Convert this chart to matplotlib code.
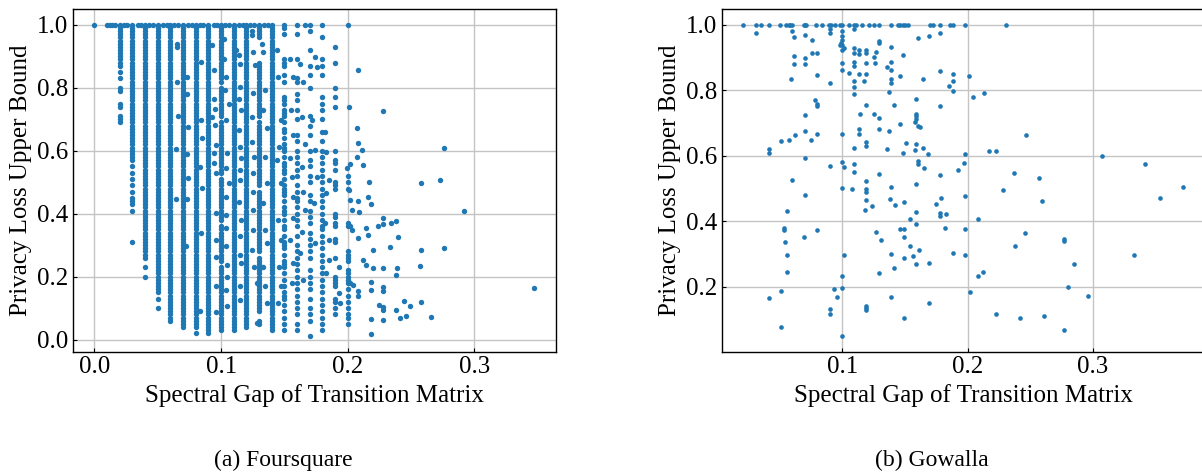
import numpy as np
import matplotlib.pyplot as plt

plt.rcParams['font.family'] = ['Liberation Serif', 'DejaVu Serif']

# ---- Foursquare ----
# most points sit on columns of spectral gap 0.02, 0.03, ..., 0.20
# y values are given in hundredths
fs_col_x = [0.02, 0.03, 0.04, 0.05, 0.06, 0.07, 0.08, 0.09, 0.10, 0.11,
            0.12, 0.13, 0.14, 0.15, 0.16, 0.17, 0.18, 0.19, 0.20]

fs_002 = [100, 99, 98, 97, 96, 95, 94, 93, 92, 91, 90, 89, 88, 87, 85, 83, 80, 79, 75, 74, 71, 70, 69]
fs_003 = [100, 99, 98, 97, 96, 95, 94, 93, 92, 91, 90, 89, 88, 87, 86, 85, 84, 83, 82, 81, 80, 79, 78, 77,
          76, 75, 74, 73, 72, 71, 70, 69, 68, 67, 66, 65, 64, 63, 62, 61, 60, 59, 58, 57,
          55, 53, 51, 49, 47, 45, 44, 43, 41, 31]
fs_004 = [100, 99, 98, 97, 96, 95, 94, 93, 92, 91, 90, 89, 88, 87, 86, 85, 84, 83, 82, 81, 80, 79, 78, 77,
          76, 75, 74, 73, 72, 71, 70, 69, 68, 67, 66, 65, 64, 63, 62, 61, 60, 59, 58, 57, 56, 55, 54, 53,
          52, 51, 50, 49, 48, 47, 46, 45, 44, 43, 42, 41, 40, 39, 38, 37, 36, 35, 34, 33, 32, 31, 30, 29,
          28, 27, 26, 23, 20]
fs_005 = [100, 99, 98, 97, 96, 95, 94, 93, 92, 91, 90, 89, 88, 87, 86, 85, 84, 83, 82, 81, 80, 79, 78, 77,
          76, 75, 74, 73, 72, 71, 70, 69, 68, 67, 66, 65, 64, 63, 62, 61, 60, 59, 58, 57, 56, 55, 54, 53,
          52, 51, 50, 49, 48, 47, 46, 45, 44, 43, 42, 41, 40, 39, 38, 37, 36, 35, 34, 33, 32, 31, 30, 29,
          28, 27, 26, 25, 24, 23, 22, 21, 20, 19, 18, 17, 16, 15, 13, 10]
fs_006 = [100, 99, 98, 97, 96, 95, 94, 93, 92, 91, 90, 89, 88, 87, 86, 85, 84, 83, 82, 81, 80, 79, 78, 77,
          76, 75, 74, 73, 72, 71, 70, 69, 68, 67, 66, 65, 64, 63, 62, 61, 60, 59, 58, 57, 56, 55, 54, 53,
          52, 51, 50, 49, 48, 47, 46, 45, 44, 43, 42, 41, 40, 39, 38, 37, 36, 35, 34, 33, 32, 31, 30, 29,
          28, 27, 26, 25, 24, 23, 22, 21, 20, 19, 18, 17, 16, 15, 14, 13, 12, 11, 10, 9, 8, 7, 6]
fs_007 = [100, 99, 98, 97, 96, 95, 94, 93, 92, 91, 90, 89, 88, 87, 86, 85, 84, 83, 82, 81, 80, 79, 78, 77,
          76, 75, 74, 73, 72, 71, 70, 69, 68, 67, 66, 65, 64, 63, 62, 61, 60, 59, 58, 57, 56, 55, 54, 53,
          52, 51, 50, 49, 48, 47, 46, 45, 44, 43, 42, 41, 40, 39, 38, 37, 36, 35, 34, 33, 32, 31, 30, 29,
          28, 27, 26, 25, 24, 23, 22, 21, 20, 19, 18, 17, 16, 15, 14, 13, 12, 11, 10, 9, 8, 7, 6, 5, 4]
fs_008 = [100, 99, 98, 97, 96, 95, 94, 93, 92, 91, 90, 89, 88, 87, 86, 85, 84, 83, 82, 81, 80, 79, 78, 77,
          76, 75, 74, 73, 72, 71, 70, 69, 68, 67, 66, 65, 64, 63, 62, 61, 60, 59, 58, 57, 56, 55, 54, 53,
          52, 51, 50, 49, 48, 47, 46, 45, 44, 43, 42, 41, 40, 39, 38, 37, 36, 35, 34, 33, 32, 31, 30, 29,
          28, 27, 26, 25, 24, 23, 22, 21, 20, 19, 18, 17, 16, 15, 14, 13, 12, 11, 10, 9, 8, 7, 6, 5, 4, 2]
fs_009 = [100, 99, 98, 97, 96, 95, 94, 93, 92, 91, 90, 89, 88, 87, 86, 85, 84, 83, 82, 81, 80, 79, 78, 77,
          76, 75, 74, 73, 72, 71, 70, 69, 68, 67, 66, 65, 64, 63, 62, 61, 60, 59, 58, 57, 56, 55, 54, 53,
          52, 51, 50, 49, 48, 47, 46, 45, 44, 43, 42, 41, 40, 39, 38, 37, 36, 35, 34, 33, 32, 31, 30, 29,
          28, 27, 26, 25, 24, 23, 22, 21, 20, 19, 18, 17, 16, 15, 14, 13, 12, 11, 10, 9, 8, 7, 6, 5, 4, 3, 2]
fs_010 = [100, 99, 98, 97, 96, 95, 94, 93, 92, 91, 90, 89, 88, 87, 86, 85, 84, 83, 82, 80, 79, 78, 77,
          76, 75, 74, 73, 72, 71, 69, 68, 67, 66, 65, 64, 63, 62, 61, 60, 59, 58, 57, 56, 55, 54, 53,
          51, 50, 49, 48, 47, 46, 45, 44, 43, 42, 41, 40, 39, 38, 36, 35, 34, 33, 32, 31, 30, 29,
          28, 27, 26, 25, 23, 22, 21, 20, 19, 18, 17, 16, 15, 14, 13, 12, 11, 10, 9, 8, 7, 6, 5, 4, 3]
fs_011 = [100, 99, 98, 97, 96, 95, 94, 93, 92, 91, 90, 89, 88, 87, 86, 85, 84, 83, 82, 81, 80, 79, 78, 77,
          76, 75, 74, 73, 72, 71, 70, 69, 68, 67, 66, 65, 64, 63, 62, 61, 60, 59, 58, 57, 56, 55, 54, 53,
          52, 51, 50, 49, 48, 47, 46, 45, 44, 43, 42, 41, 40, 39, 38, 37, 36, 35, 34, 33, 32, 31, 30, 29,
          28, 27, 26, 25, 24, 23, 22, 21, 20, 19, 18, 17, 16, 15, 14, 13, 12, 11, 10, 9, 8, 7, 6, 5, 4, 3]
fs_012 = [100, 99, 98, 97, 96, 95, 94, 93, 92, 91, 90, 89, 88, 87, 86, 85, 84, 83, 82, 81, 80, 79, 78, 77,
          76, 75, 74, 73, 72, 71, 70, 69, 68, 67, 66, 65, 64, 63, 62, 61, 60, 59, 58, 57, 56, 55, 54, 53,
          52, 51, 50, 49, 48, 47, 46, 45, 44, 43, 42, 41, 40, 39, 38, 37, 36, 35, 34, 33, 32, 31, 30, 29,
          28, 27, 26, 25, 24, 23, 22, 21, 20, 19, 18, 17, 16, 15, 14, 13, 12, 11, 10, 9, 8, 7, 6, 5, 4]
fs_013 = [100, 99, 98, 97, 96, 88, 87, 86, 85, 84, 83, 82, 81, 80, 79, 78, 77,
          76, 75, 74, 73, 72, 71, 69, 68, 67, 66, 65, 64, 63, 62, 61, 60, 59, 58, 57, 56, 55, 54, 53,
          52, 51, 50, 49, 47, 46, 45, 44, 43, 42, 41, 40, 39, 38, 37, 36, 35, 34, 33, 32, 31, 30, 29,
          28, 26, 25, 24, 23, 22, 21, 20, 19, 18, 17, 16, 15, 14, 13, 12, 11, 10, 9, 6, 5]
fs_014 = [100, 99, 98, 97, 96, 95, 94, 93, 92, 91, 90, 89, 88, 87, 86, 85, 84, 83, 82, 81, 80, 79, 78, 77,
          76, 75, 74, 73, 72, 71, 70, 69, 68, 67, 66, 65, 64, 63, 62, 61, 60, 59, 58, 57, 56, 55, 54, 53,
          52, 51, 50, 49, 48, 47, 46, 45, 44, 43, 42, 41, 40, 39, 38, 37, 36, 35, 34, 33, 32, 31, 30, 29,
          28, 27, 26, 25, 24, 23, 22, 21, 20, 19, 18, 17, 16, 15, 14, 13, 12, 11, 10, 9, 8, 7, 6, 5, 4, 3]
fs_015 = [100, 99, 97, 89, 88, 87, 84, 82, 77, 76, 75, 73, 72, 71, 69, 67, 66, 64, 62, 61, 60, 58, 56, 55,
          54, 53, 51, 49, 48, 47, 46, 44, 42, 41, 40, 38, 36, 35, 33, 31, 30, 29, 27, 25, 24, 23, 21, 19,
          17, 15, 14, 13, 11, 9, 7, 5, 3]
fs_016 = [100, 97, 89, 83, 82, 78, 76, 73, 70, 65, 63, 60, 58, 56, 54, 52, 49, 47, 45, 44, 42, 40, 38, 36,
          33, 30, 28, 26, 24, 22, 20, 18, 16, 14, 12, 10, 8, 5, 3]
fs_017 = [100, 98, 92, 87, 84, 80, 71, 68, 65, 60, 57, 55, 52, 50, 46, 44, 41, 39, 37, 34, 32, 30, 28, 26,
          22, 20, 18, 16, 13, 10, 8, 6, 1]
fs_018 = [100, 96, 89, 87, 84, 77, 75, 73, 70, 66, 63, 60, 58, 56, 54, 52, 50, 48, 46, 44, 42, 40, 38, 36,
          35, 33, 31, 29, 27, 25, 23, 21, 19, 17, 15, 13, 11, 9, 7, 5, 3]
fs_019 = [93, 88, 80, 77, 74, 60, 57, 56, 54, 50, 49, 48, 40, 39, 37, 36, 32, 31, 26, 20, 19, 18, 17, 13,
          12, 10, 8]
fs_020 = [100, 52, 50, 48, 37, 36, 28, 27, 26, 25, 22, 21, 20, 19, 18, 16, 14, 12, 10, 8, 7, 5]

fs_cols = [fs_002, fs_003, fs_004, fs_005, fs_006, fs_007, fs_008, fs_009, fs_010, fs_011,
           fs_012, fs_013, fs_014, fs_015, fs_016, fs_017, fs_018, fs_019, fs_020]

# points on the 1.0 row between the columns
fs_top_x = [0.0, 0.010, 0.012, 0.014, 0.016, 0.023, 0.026, 0.034, 0.037, 0.043, 0.046, 0.054, 0.057,
            0.063, 0.066, 0.074, 0.077, 0.083, 0.086, 0.094, 0.097, 0.103, 0.106, 0.114, 0.117,
            0.123, 0.126, 0.134, 0.137, 0.166]

# points off the columns
fs_sx = [0.064, 0.064, 0.065, 0.065, 0.065, 0.066, 0.073, 0.073, 0.074, 0.073, 0.074, 0.073, 0.072,
         0.083, 0.084, 0.084, 0.085, 0.083, 0.085, 0.084,
         0.093, 0.094, 0.094, 0.095, 0.093, 0.095, 0.096, 0.094, 0.094, 0.096, 0.096, 0.096, 0.096, 0.096, 0.096,
         0.102, 0.102, 0.104, 0.103, 0.106, 0.104, 0.105, 0.104, 0.106, 0.104, 0.104, 0.104, 0.104, 0.105,
         0.105, 0.104, 0.105,
         0.112, 0.114, 0.115, 0.115, 0.114, 0.116, 0.114, 0.115, 0.116, 0.115, 0.115, 0.114, 0.116, 0.115,
         0.115, 0.116, 0.115, 0.115,
         0.124, 0.124, 0.125, 0.127, 0.125, 0.124, 0.124, 0.126, 0.125, 0.125, 0.125, 0.125, 0.124, 0.126,
         0.128, 0.128,
         0.132, 0.133, 0.135, 0.133, 0.136, 0.135, 0.136, 0.133, 0.135, 0.136, 0.133, 0.135, 0.136,
         0.144, 0.145, 0.147, 0.146, 0.144, 0.147, 0.145, 0.147, 0.146, 0.147, 0.145,
         0.154, 0.157, 0.155, 0.157, 0.154, 0.156, 0.157, 0.157, 0.154, 0.157, 0.156,
         0.162, 0.165, 0.164, 0.166, 0.164, 0.165, 0.166, 0.164, 0.162, 0.165,
         0.174, 0.176, 0.172, 0.182, 0.174, 0.183, 0.176, 0.185, 0.183, 0.173, 0.182, 0.185, 0.174, 0.185,
         0.193, 0.183, 0.194, 0.193,
         0.208, 0.201, 0.228, 0.207, 0.208, 0.211, 0.207, 0.202, 0.212, 0.199, 0.217, 0.201, 0.202, 0.208,
         0.216, 0.218, 0.203, 0.209, 0.228, 0.238, 0.234, 0.224, 0.228, 0.202, 0.203, 0.208, 0.214, 0.216,
         0.240, 0.220, 0.233, 0.258, 0.276, 0.212, 0.214, 0.220, 0.228, 0.239, 0.238, 0.257, 0.202, 0.204,
         0.208, 0.208, 0.218, 0.218, 0.228, 0.228, 0.225, 0.228, 0.228, 0.238, 0.244, 0.249, 0.258, 0.241,
         0.246, 0.266, 0.218, 0.228, 0.218, 0.276, 0.258, 0.273, 0.292, 0.347]
fs_sy = [0.607, 0.446, 0.94, 0.93, 0.82, 0.71, 0.835, 0.78, 0.676, 0.59, 0.512, 0.446, 0.296,
         0.09, 0.882, 0.697, 0.642, 0.547, 0.481, 0.34,
         0.935, 0.856, 0.766, 0.734, 0.708, 0.681, 0.618, 0.592, 0.56, 0.528, 0.401, 0.317, 0.262, 0.169, 0.087,
         0.956, 0.893, 0.835, 0.792, 0.75, 0.697, 0.592, 0.544, 0.497, 0.454, 0.396, 0.354, 0.296, 0.238,
         0.2, 0.158, 0.106,
         0.919, 0.903, 0.877, 0.803, 0.766, 0.729, 0.666, 0.613, 0.576, 0.539, 0.507, 0.438, 0.38, 0.328,
         0.269, 0.243, 0.169, 0.127,
         0.982, 0.967, 0.914, 0.872, 0.782, 0.708, 0.629, 0.581, 0.528, 0.47, 0.412, 0.349, 0.285, 0.232,
         0.18, 0.053,
         0.94, 0.914, 0.792, 0.729, 0.671, 0.581, 0.497, 0.433, 0.349, 0.306, 0.232, 0.169, 0.116,
         0.919, 0.835, 0.697, 0.613, 0.571, 0.497, 0.38, 0.317, 0.232, 0.169, 0.116,
         0.893, 0.835, 0.729, 0.65, 0.576, 0.518, 0.454, 0.386, 0.317, 0.243, 0.18,
         0.877, 0.819, 0.708, 0.623, 0.549, 0.47, 0.412, 0.343, 0.275, 0.19,
         0.898, 0.866, 0.697, 0.66, 0.602, 0.597, 0.518, 0.507, 0.465, 0.433, 0.37, 0.317, 0.306, 0.254,
         0.232, 0.211, 0.116, 0.148,
         0.858, 0.74, 0.727, 0.671, 0.625, 0.602, 0.581, 0.558, 0.556, 0.544, 0.502, 0.475, 0.442, 0.44,
         0.452, 0.431, 0.412, 0.404, 0.387, 0.378, 0.37, 0.361, 0.366, 0.36, 0.347, 0.322, 0.355, 0.332,
         0.326, 0.284, 0.293, 0.285, 0.292, 0.254, 0.238, 0.226, 0.229, 0.228, 0.206, 0.233, 0.18, 0.174,
         0.153, 0.139, 0.182, 0.158, 0.166, 0.153, 0.109, 0.102, 0.095, 0.093, 0.121, 0.107, 0.118, 0.068,
         0.076, 0.072, 0.064, 0.063, 0.019, 0.608, 0.498, 0.506, 0.409, 0.165]

# ---- Gowalla ----
gw_top_x = [0.021, 0.031, 0.035, 0.041, 0.050, 0.055, 0.057, 0.058, 0.060, 0.069, 0.070, 0.071, 0.079,
            0.084, 0.089, 0.091, 0.094, 0.098, 0.100, 0.105, 0.109, 0.111, 0.116, 0.121, 0.125, 0.129,
            0.139, 0.144, 0.146, 0.148, 0.150, 0.152, 0.170, 0.172, 0.178, 0.186, 0.188, 0.198, 0.231]

gw_x = [0.031, 0.060, 0.061, 0.070, 0.076, 0.090, 0.090, 0.100, 0.100, 0.100, 0.099, 0.098, 0.100, 0.101,
        0.100, 0.109, 0.109, 0.160, 0.169, 0.178, 0.061, 0.061, 0.070, 0.070, 0.076, 0.080, 0.080, 0.059,
        0.090, 0.100, 0.100, 0.105, 0.109, 0.109, 0.109, 0.113, 0.113, 0.113, 0.117, 0.119, 0.119, 0.119,
        0.119, 0.125, 0.126, 0.127, 0.129, 0.129, 0.136, 0.139, 0.139, 0.139, 0.139, 0.139, 0.137, 0.148,
        0.146, 0.109, 0.109, 0.109, 0.164, 0.178, 0.188, 0.188, 0.185, 0.188, 0.201, 0.204, 0.213,
        0.078, 0.080, 0.080, 0.070, 0.119, 0.114, 0.125, 0.129, 0.141, 0.159, 0.159, 0.159, 0.159, 0.158,
        0.160, 0.162, 0.146, 0.137, 0.129, 0.113, 0.113, 0.178,
        0.051, 0.057, 0.062, 0.070, 0.075, 0.080, 0.100, 0.041, 0.041, 0.070, 0.109, 0.119, 0.119, 0.136,
        0.148, 0.151, 0.158, 0.159, 0.164, 0.168,
        0.090, 0.100, 0.101, 0.100, 0.109, 0.109, 0.108, 0.129, 0.139, 0.160, 0.159, 0.160, 0.165, 0.178,
        0.192, 0.197, 0.198,
        0.060, 0.070, 0.119, 0.119, 0.119, 0.119, 0.118, 0.124, 0.138, 0.142, 0.149, 0.159, 0.159, 0.154,
        0.175, 0.179, 0.178, 0.178, 0.183, 0.182, 0.198, 0.198,
        0.056, 0.053, 0.053, 0.054, 0.056, 0.056, 0.069, 0.080, 0.101, 0.127, 0.131, 0.139, 0.146, 0.149,
        0.149, 0.149, 0.154, 0.156, 0.161, 0.159, 0.169, 0.141, 0.129, 0.188, 0.198, 0.208,
        0.041, 0.051, 0.051, 0.093, 0.096, 0.090, 0.090, 0.100, 0.100, 0.100, 0.119, 0.119, 0.119, 0.139,
        0.149, 0.169, 0.202, 0.208, 0.212, 0.223,
        0.247, 0.217, 0.223, 0.307, 0.342, 0.372, 0.354, 0.237, 0.257, 0.228, 0.259, 0.246, 0.238, 0.277,
        0.277, 0.333, 0.285, 0.280, 0.296, 0.242, 0.261, 0.277]
gw_y = [0.976, 0.981, 0.964, 0.970, 0.954, 0.988, 0.975, 0.980, 0.965, 0.955, 0.945, 0.940, 0.937, 0.930,
        0.922, 0.988, 0.929, 0.960, 0.965, 0.974, 0.905, 0.880, 0.899, 0.881, 0.914, 0.914, 0.846, 0.834,
        0.823, 0.883, 0.863, 0.854, 0.886, 0.874, 0.915, 0.922, 0.912, 0.851, 0.827, 0.922, 0.915, 0.884,
        0.851, 0.901, 0.884, 0.918, 0.950, 0.946, 0.871, 0.932, 0.888, 0.863, 0.835, 0.823, 0.795, 0.909,
        0.843, 0.828, 0.810, 0.790, 0.835, 0.858, 0.851, 0.828, 0.814, 0.798, 0.845, 0.779, 0.792,
        0.769, 0.759, 0.751, 0.726, 0.754, 0.729, 0.727, 0.715, 0.756, 0.775, 0.729, 0.721, 0.713, 0.703,
        0.691, 0.689, 0.696, 0.675, 0.682, 0.683, 0.668, 0.752,
        0.645, 0.647, 0.665, 0.675, 0.649, 0.666, 0.667, 0.622, 0.610, 0.594, 0.624, 0.641, 0.629, 0.620,
        0.610, 0.640, 0.617, 0.637, 0.623, 0.605,
        0.569, 0.581, 0.566, 0.502, 0.576, 0.551, 0.497, 0.543, 0.505, 0.574, 0.515, 0.584, 0.562, 0.541,
        0.558, 0.579, 0.605,
        0.526, 0.480, 0.523, 0.498, 0.488, 0.464, 0.434, 0.446, 0.468, 0.451, 0.459, 0.429, 0.393, 0.406,
        0.454, 0.470, 0.424, 0.417, 0.421, 0.380, 0.477, 0.375,
        0.432, 0.378, 0.373, 0.338, 0.298, 0.246, 0.351, 0.373, 0.298, 0.368, 0.344, 0.300, 0.375, 0.375,
        0.351, 0.287, 0.325, 0.294, 0.312, 0.269, 0.272, 0.258, 0.241, 0.302, 0.297, 0.407,
        0.164, 0.187, 0.078, 0.192, 0.169, 0.132, 0.116, 0.234, 0.195, 0.048, 0.141, 0.134, 0.130, 0.168,
        0.104, 0.149, 0.185, 0.234, 0.246, 0.118,
        0.664, 0.616, 0.616, 0.599, 0.575, 0.506, 0.470, 0.546, 0.532, 0.494, 0.463, 0.364, 0.325, 0.345,
        0.339, 0.296, 0.270, 0.199, 0.170, 0.105, 0.110, 0.068]

# build the Foursquare point lists
fx = []
fy = []
for cx, col in zip(fs_col_x, fs_cols):
    fx += [cx] * len(col)
    fy += [v / 100 for v in col]
fx += fs_top_x + fs_sx
fy += [1.0] * len(fs_top_x) + fs_sy

gx = gw_top_x + gw_x
gy = [1.0] * len(gw_top_x) + gw_y

blue = '#1f77b4'
fig = plt.figure(figsize=(12.02, 4.72), dpi=100)
ax1 = fig.add_axes([72.5 / 1202, 120 / 472, 483.5 / 1202, 342.7 / 472])
ax2 = fig.add_axes([721.5 / 1202, 120 / 472, 483.5 / 1202, 342.7 / 472])

ax1.scatter(fx, fy, s=15, color=blue, linewidths=0, zorder=3)
ax2.scatter(gx, gy, s=11, color=blue, linewidths=0, zorder=3)

ax1.set_xticks([0.0, 0.1, 0.2, 0.3])
ax1.set_yticks([0.0, 0.2, 0.4, 0.6, 0.8, 1.0])
ax2.set_xticks([0.1, 0.2, 0.3])
ax2.set_yticks([0.2, 0.4, 0.6, 0.8, 1.0])

for ax in [ax1, ax2]:
    ax.grid(True, color='#c4c4c4', linewidth=1.0, zorder=0)
    ax.set_axisbelow(True)
    ax.tick_params(direction='in', length=3, labelsize=18, pad=3)
    ax.set_xlabel('Spectral Gap of Transition Matrix', fontsize=18, labelpad=4)
    ax.set_ylabel('Privacy Loss Upper Bound', fontsize=18, labelpad=4)
    for sp in ax.spines.values():
        sp.set_color('black')
        sp.set_linewidth(1.0)

fig.text(283 / 1202, 1 - 460 / 472, '(a) Foursquare', ha='center', va='center', fontsize=17)
fig.text(932 / 1202, 1 - 460 / 472, '(b) Gowalla', ha='center', va='center', fontsize=17)

fig.savefig('out.png', dpi=100)
